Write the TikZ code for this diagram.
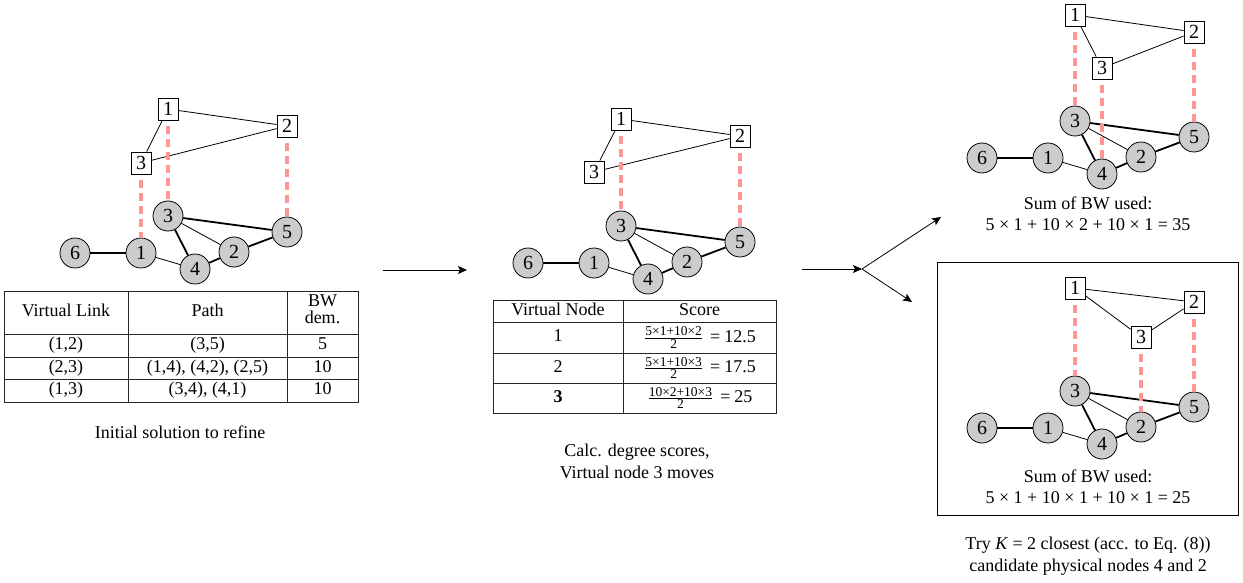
\documentclass[tikz,border=0pt]{standalone}
\usepackage{fontspec}
\setmainfont{Liberation Serif}
\usetikzlibrary{arrows.meta}
\definecolor{vpink}{RGB}{255,150,150}
\definecolor{pfill}{gray}{0.8}
\newcommand\myfr[2]{$\frac{\mbox{\fontsize{13.5}{14}\selectfont #1}}{\mbox{\fontsize{13.5}{14}\selectfont #2}}$}
\newcommand\physnet[3]{%
  \begin{scope}[shift={(#2,#3)}]
    \node[pn] (#1p6) at (0,0) {6};
    \node[pn] (#1p1) at (66,0) {1};
    \node[pn] (#1p4) at (120,16) {4};
    \node[pn] (#1p2) at (159,-1) {2};
    \node[pn] (#1p3) at (93,-37) {3};
    \node[pn] (#1p5) at (212,-21) {5};
  \end{scope}
  \draw[thk] (#1p6) -- (#1p1);
  \draw[thn] (#1p1) -- (#1p4);
  \draw[thk] (#1p3) -- (#1p4);
  \draw[thn] (#1p3) -- (#1p2);
  \draw[thk] (#1p3) -- (#1p5);
  \draw[thk] (#1p4) -- (#1p2);
  \draw[thk] (#1p2) -- (#1p5);
}
\begin{document}
\begin{tikzpicture}[x=1pt,y=-1pt, font=\fontsize{18}{21}\selectfont,
  pn/.style={circle, draw, fill=pfill, minimum size=30pt, inner sep=0pt, font=\fontsize{20}{20}\selectfont, line width=0.8pt},
  vn/.style={draw, fill=white, minimum width=20pt, minimum height=22pt, inner sep=0pt, font=\fontsize{20}{20}\selectfont, line width=0.8pt},
  thk/.style={line width=1.8pt},
  thn/.style={line width=0.8pt},
  vmap/.style={draw=vpink, line width=3.5pt, dash pattern=on 8pt off 5pt, shorten <=6pt},
  tbl/.style={line width=0.8pt, draw=black!85},
  cell/.style={inner sep=0pt, text height=12pt, text depth=4pt},
  arr/.style={line width=0.8pt, -{Stealth[length=9pt,width=8pt,inset=2pt]}},
  txt/.style={align=center, inner sep=0pt}]
\useasboundingbox (0,0) rectangle (1243,583);

% ---------- left graph ----------
\physnet{L}{75}{253}
\node[vn] (Lv1) at (168,109) {1};
\node[vn] (Lv2) at (287,126) {2};
\node[vn] (Lv3) at (141,163) {3};
\draw[thn] (Lv1) -- (Lv2);
\draw[thn] (Lv1) -- (Lv3);
\draw[thn] (Lv3) -- (Lv2);
\draw[vmap] (Lv3.south) -- (Lp1.north);
\draw[vmap] (Lv1.south) -- (Lp3.north);
\draw[vmap] (Lv2.south) -- (Lp5.north);

% left table
\draw[tbl] (4.5,291) rectangle (358,402);
\draw[tbl] (4.5,334) -- (358,334);
\draw[tbl] (4.5,357) -- (358,357);
\draw[tbl] (4.5,379) -- (358,379);
\draw[tbl] (128,291) -- (128,402);
\draw[tbl] (287,291) -- (287,402);
\node[cell] (th1) at (66,312.5) {Virtual Link};
\node[cell] (th2) at (207.5,312.5) {Path};
\node[txt, font=\fontsize{18}{17}\selectfont] (th3) at (322.5,309) {BW\\dem.};
\node[cell] (r11) at (66,345.5) {(1,2)};
\node[cell] (r12) at (207.5,345.5) {(3,5)};
\node[cell] (r13) at (322.5,345.5) {5};
\node[cell] (r21) at (66,368) {(2,3)};
\node[cell] (r22) at (207.5,368) {(1,4), (4,2), (2,5)};
\node[cell] (r23) at (322.5,368) {10};
\node[cell] (r31) at (66,390.5) {(1,3)};
\node[cell] (r32) at (207.5,390.5) {(3,4), (4,1)};
\node[cell] (r33) at (322.5,390.5) {10};
\node[txt] (capL) at (180,432) {Initial solution to refine};

% ---------- middle graph ----------
\physnet{M}{528}{263}
\node[vn] (Mv1) at (621,119) {1};
\node[vn] (Mv2) at (740,136) {2};
\node[vn] (Mv3) at (594,172) {3};
\draw[thn] (Mv1) -- (Mv2);
\draw[thn] (Mv1) -- (Mv3);
\draw[thn] (Mv3) -- (Mv2);
\draw[vmap] (Mv1.south) -- (Mp3.north);
\draw[vmap] (Mv2.south) -- (Mp5.north);

% middle table
\draw[tbl] (493,300) rectangle (776,413);
\draw[tbl] (493,322) -- (776,322);
\draw[tbl] (493,353) -- (776,353);
\draw[tbl] (493,383) -- (776,383);
\draw[tbl] (623,300) -- (623,413);
\node[cell] (mh1) at (558,311) {Virtual Node};
\node[cell] (mh2) at (699.5,311) {Score};
\node[cell] (m11) at (558,337.5) {1};
\node[inner sep=0pt] (m12) at (700,337.5) {\myfr{5×1+10×2}{2}\hspace{7pt}=\hspace{4pt}12.5};
\node[cell] (m21) at (558,368) {2};
\node[inner sep=0pt] (m22) at (700,368) {\myfr{5×1+10×3}{2}\hspace{7pt}=\hspace{4pt}17.5};
\node[cell] (m31) at (558,398) {\textbf{3}};
\node[inner sep=0pt] (m32) at (700,398) {\myfr{10×2+10×3}{2}\hspace{7pt}=\hspace{4pt}25};
\node[txt, font=\fontsize{18}{22}\selectfont] (capM) at (637,461) {Calc. degree scores,\\Virtual node 3 moves};

% ---------- arrows ----------
\coordinate (a1s) at (383,270);
\coordinate (a1e) at (467,270);
\draw[arr] (a1s) -- (a1e);
\coordinate (a2s) at (802,269);
\coordinate (fork) at (862,269);
\coordinate (aup) at (941,217);
\coordinate (adn) at (912,302);
\draw[arr] (a2s) -- (fork);
\draw[arr] (fork) -- (aup);
\draw[arr] (fork) -- (adn);

% ---------- right top graph ----------
\physnet{T}{982}{158}
\node[vn] (Tv1) at (1075,15) {1};
\node[vn] (Tv2) at (1194,32) {2};
\node[vn] (Tv3) at (1102,68) {3};
\draw[thn] (Tv1) -- (Tv2);
\draw[thn] (Tv1) -- (Tv3);
\draw[thn] (Tv3) -- (Tv2);
\draw[vmap] (Tv1.south) -- (Tp3.north);
\draw[vmap] (Tv3.south) -- (Tp4.north);
\draw[vmap] (Tv2.south) -- (Tp5.north);
\node[txt, font=\fontsize{18}{21}\selectfont] (sumT) at (1088,214) {Sum of BW used:\\5 × 1 + 10 × 2 + 10 × 1 = 35};

% ---------- right bottom graph ----------
\node[draw, line width=0.8pt, minimum width=301pt, minimum height=253pt, inner sep=0pt] (rbox) at (1087.5,388.5) {};
\physnet{B}{982}{428}
\node[vn] (Bv1) at (1075,288) {1};
\node[vn] (Bv2) at (1194,302) {2};
\node[vn] (Bv3) at (1141,337) {3};
\draw[thn] (Bv1) -- (Bv2);
\draw[thn] (Bv1) -- (Bv3);
\draw[thn] (Bv3) -- (Bv2);
\draw[vmap] (Bv1.south) -- (Bp3.north);
\draw[vmap] (Bv3.south) -- (Bp2.north);
\draw[vmap] (Bv2.south) -- (Bp5.north);
\node[txt, font=\fontsize{18}{21}\selectfont] (sumB) at (1088,487) {Sum of BW used:\\5 × 1 + 10 × 1 + 10 × 1 = 25};
\node[txt, font=\fontsize{18}{22}\selectfont] (capR) at (1088,556) {Try \textit{K} = 2 closest (acc. to Eq. (8))\\candidate physical nodes 4 and 2};
\end{tikzpicture}
\end{document}
